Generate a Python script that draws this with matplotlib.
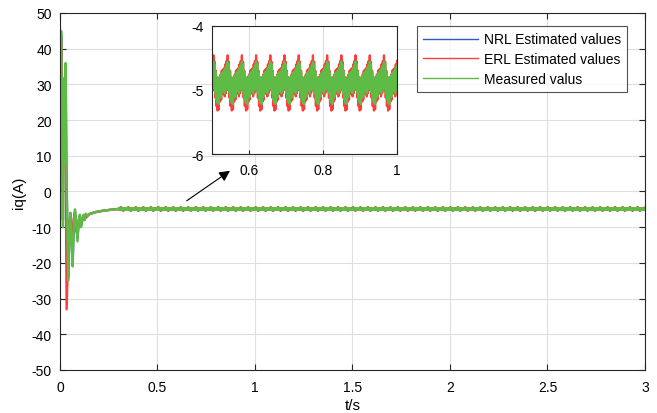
import numpy as np
import matplotlib.pyplot as plt

plt.rcParams['font.family'] = ['Liberation Sans', 'DejaVu Sans']
plt.rcParams['axes.unicode_minus'] = False

# start-up transient (t in s, iq in A)
t_start_green = [0, 0.002, 0.004, 0.006, 0.009, 0.012, 0.015, 0.018, 0.022, 0.026, 0.029, 0.033,
                 0.037, 0.042, 0.047, 0.053, 0.059, 0.065, 0.071, 0.077, 0.084, 0.090, 0.096,
                 0.102, 0.108, 0.114, 0.120, 0.126, 0.132, 0.14, 0.15, 0.16, 0.18, 0.2, 0.22,
                 0.25, 0.28, 0.3]
iq_start_green = [0, 38, 22, 45, 18, 32, -10, 22, 8, 30, 36, 8, -8, -25, -12, -6, -15, -21, -9,
                  -5, -10, -14, -8, -6.5, -10, -8, -6.5, -8, -6.2, -6.8, -6.3, -6.2, -5.8, -5.6,
                  -5.4, -5.2, -5.0, -4.9]

t_start_red = [0, 0.003, 0.006, 0.010, 0.014, 0.018, 0.022, 0.026, 0.030, 0.034, 0.039, 0.045,
               0.051, 0.057, 0.063, 0.069, 0.076, 0.084, 0.090, 0.1, 0.11, 0.12, 0.13, 0.15,
               0.18, 0.22, 0.26, 0.3]
iq_start_red = [0, 30, 42, 25, 5, 18, 28, 30, 2, -33, -22, -10, -8, -12, -14, -8, -6, -11,
                -12, -7, -9, -7, -7.5, -6.4, -5.8, -5.4, -5.1, -4.9]

t_start_blue = t_start_green
iq_start_blue = [0, 36, 22, 44, 18, 30, -8, 20, 8, 28, 34, 6, -8, -24, -12, -6, -14, -20, -9,
                 -5.5, -10, -13, -8, -7, -9.5, -8, -7, -8, -6.5, -6.8, -6.3, -6.2, -5.8, -5.6,
                 -5.4, -5.2, -5.0, -4.9]

# one ripple period of the steady state (about 0.0385 s)
ripple_dt = 0.0016
green_cycle = [-4.95, -4.70, -5.05, -4.66, -5.00, -4.62, -4.98, -4.56, -4.95, -4.60, -5.05, -4.72,
               -5.15, -4.80, -5.20, -4.86, -5.22, -4.82, -5.12, -4.78, -5.10, -4.74, -5.02, -4.72]
red_cycle = [-4.98, -4.66, -5.10, -4.60, -5.05, -4.55, -5.00, -4.46, -4.98, -4.56, -5.12, -4.70,
             -5.25, -4.80, -5.32, -4.86, -5.30, -4.80, -5.18, -4.76, -5.15, -4.70, -5.06, -4.68]
blue_cycle = [-4.95, -4.76, -5.02, -4.72, -4.99, -4.70, -4.97, -4.66, -4.96, -4.70, -5.03, -4.78,
              -5.10, -4.84, -5.14, -4.88, -5.15, -4.86, -5.08, -4.82, -5.06, -4.80, -5.00, -4.78]

labels = ['NRL Estimated values', 'ERL Estimated values', 'Measured valus']
colors = ['#2F5BC4', '#FF3B3B', '#5DBB46']

t_tail = np.arange(0.3 + ripple_dt, 3.0001, ripple_dt)


def build(t_start, iq_start, cycle):
    t = np.concatenate([t_start, t_tail])
    y = np.concatenate([iq_start, np.resize(cycle, len(t_tail))])
    return t, y


series = [build(t_start_blue, iq_start_blue, blue_cycle),
          build(t_start_red, iq_start_red, red_cycle),
          build(t_start_green, iq_start_green, green_cycle)]

fig = plt.figure(figsize=(6.57, 4.14), dpi=100)
ax = fig.add_axes([0.0913, 0.1039, 0.8904, 0.8623])
for (t, y), c, lab in zip(series, colors, labels):
    ax.plot(t, y, color=c, lw=1.7, label=lab)

ax.set_xlim(0, 3)
ax.set_ylim(-50, 50)
ax.set_xticks([0, 0.5, 1, 1.5, 2, 2.5, 3])
ax.set_xticklabels(['0', '0.5', '1', '1.5', '2', '2.5', '3'])
ax.set_yticks(range(-50, 51, 10))
ax.set_xlabel('t/s', fontsize=11, labelpad=3)
ax.set_ylabel('iq(A)', fontsize=11, labelpad=4)
ax.grid(True, color='#dedede', lw=0.8)
ax.tick_params(direction='in', top=True, right=True, labelsize=10, length=4, color='#262626')
ax.tick_params(axis='x', pad=7)
ax.tick_params(axis='y', pad=6)
for s in ax.spines.values():
    s.set_color('#262626')
    s.set_linewidth(0.8)

leg = ax.legend(loc='upper right', bbox_to_anchor=(0.970, 0.963), fontsize=10,
                frameon=True, fancybox=False, edgecolor='#262626', handlelength=4.0,
                borderpad=0.45, labelspacing=0.4, handletextpad=0.4, borderaxespad=0)
leg.get_frame().set_linewidth(0.8)
for line in leg.get_lines():
    line.set_linewidth(1.0)

ax.annotate('', xy=(0.872, 5.8), xytext=(0.65, -2.6),
            arrowprops=dict(arrowstyle='-|>', color='black', lw=0.8,
                            mutation_scale=16, shrinkA=0, shrinkB=0))

# zoomed inset
axin = fig.add_axes([0.3222, 0.6249, 0.2816, 0.3106])
for (t, y), c in zip(series, colors):
    axin.plot(t, y, color=c, lw=1.6)
axin.set_xlim(0.5, 1)
axin.set_ylim(-6, -4)
axin.set_xticks([0.6, 0.8, 1])
axin.set_xticklabels(['0.6', '0.8', '1'])
axin.set_yticks([-6, -5, -4])
axin.grid(True, color='#dedede', lw=0.8)
axin.tick_params(direction='in', labelsize=10, length=3, color='#262626', pad=6)
for s in axin.spines.values():
    s.set_color('#262626')
    s.set_linewidth(0.8)

fig.savefig('out.png', dpi=100)
